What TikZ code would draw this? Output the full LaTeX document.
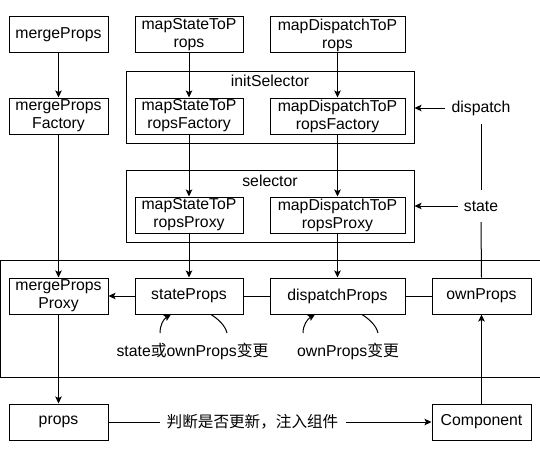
\documentclass[tikz,border=0pt]{standalone}
\usepackage{fontspec}
\setmainfont{Liberation Sans}
\newfontfamily\cjk{Noto Sans CJK SC}
\usetikzlibrary{arrows.meta,calc}
\begin{document}
\begin{tikzpicture}[x=1pt,y=-1pt,
  txt/.style={font=\fontsize{15.8}{18}\selectfont, text=black},
  box/.style={txt, draw, line width=1pt, minimum height=36pt, inner sep=0pt, align=center},
  cont/.style={draw, line width=1pt, minimum width=287.5pt, minimum height=71.5pt, inner sep=0pt},
  lbl/.style={txt, inner ysep=0pt, minimum height=32pt},
  cjklbl/.style={font=\cjk\fontsize{15.6}{18}\selectfont, text=black, inner ysep=0pt},
  conn/.style={line width=1pt, draw=black},
  arr/.style={conn, -{Stealth[length=7pt,width=6.5pt,inset=1.5pt]}}
]
\useasboundingbox (0,0) rectangle (540,460);

% containers
\node[cont] (initSel) at (270.25,107.25) {};
\node[txt, inner sep=0pt] (initTitle) at (270,81) {initSelector};
\node[cont] (sel) at (270.25,206.25) {};
\node[txt, inner sep=0pt] (selTitle) at (270,181) {selector};
\draw[conn] (545,260) -- (0.5,260) -- (0.5,377.5) -- (545,377.5);

% boxes
\node[box, minimum width=99pt]  (mergeProps) at (58.5,35) {mergeProps};
\node[box, minimum width=108pt] (mapS) at (189,35) {mapStateToP\\rops};
\node[box, minimum width=135pt] (mapD) at (337.5,35) {mapDispatchToP\\rops};

\node[box, minimum width=99pt]  (mergeF) at (58.5,116) {mergeProps\\Factory};
\node[box, minimum width=108pt] (mapSF) at (189,116) {mapStateToP\\ropsFactory};
\node[box, minimum width=135pt] (mapDF) at (337.5,116) {mapDispatchToP\\ropsFactory};

\node[box, minimum width=108pt] (mapSP) at (189,215) {mapStateToP\\ropsProxy};
\node[box, minimum width=135pt] (mapDP) at (337.5,215) {mapDispatchToP\\ropsProxy};

\node[box, minimum width=99pt]  (mergePP) at (58.5,296) {mergeProps\\Proxy};
\node[box, minimum width=108pt] (stateProps) at (189,296) {stateProps};
\node[box, minimum width=135pt] (dispatchProps) at (337.5,296) {dispatchProps};
\node[box, minimum width=99pt]  (ownProps) at (481.5,296) {ownProps};

\node[box, minimum width=99pt]  (props) at (58.5,422) {props};
\node[box, minimum width=99pt]  (comp) at (481.5,422) {Component};

% side labels
\node[lbl, inner xsep=6pt] (dispatch) at (481,108) {dispatch};
\node[lbl, inner xsep=6pt] (state) at (481,206) {state};

% bottom labels
\node[txt, inner sep=0pt] (lblS) at (192.5,351) {state{\cjk 或}ownProps{\cjk 变更}};
\node[txt, inner sep=0pt] (lblD) at (348,351) {ownProps{\cjk 变更}};
\node[cjklbl, inner xsep=7pt] (judge) at (252.5,422) {判断是否更新，注入组件};

% vertical arrows
\draw[arr] (mergeProps) -- (mergeF);
\draw[arr] (mapS) -- (mapSF);
\draw[arr] (mapD) -- (mapDF);
\draw[arr] (mapSF) -- (mapSP);
\draw[arr] (mapDF) -- (mapDP);
\draw[arr] (mergeF) -- (mergePP);
\draw[arr] (mapSP) -- (stateProps);
\draw[arr] (mapDP) -- (dispatchProps);
\draw[arr] (mergePP) -- (props);
\draw[arr] (comp) -- (ownProps);

% horizontal
\draw[arr] (stateProps) -- (mergePP);
\draw[conn] (stateProps) -- (dispatchProps);
\draw[conn] (dispatchProps) -- (ownProps);
\draw[conn] (props) -- (judge);
\draw[arr] (judge) -- (comp);

\draw[arr] (dispatch.west) -- (dispatch.west -| initSel.east);
\draw[arr] (state.west) -- (state.west -| sel.east);
\draw[conn] (dispatch.south) -- (state.north);
\draw[conn] (state.south) -- (ownProps.north);

% curved hints
\coordinate (sA) at (160,333);
\coordinate (sB) at (227,333);
\coordinate (dA) at (303,333);
\coordinate (dB) at (378,333);
\draw[arr] (sA) .. controls (160,325) and (163.5,319) .. ($(stateProps.south)+(-18,0)$);
\draw[conn] ($(stateProps.south)+(22,0)$) .. controls (218,319) and (225,325) .. (sB);
\draw[arr] (dA) .. controls (303,325) and (307.5,319) .. ($(dispatchProps.south)+(-22.5,0)$);
\draw[conn] ($(dispatchProps.south)+(24.5,0)$) .. controls (369,319) and (376,325) .. (dB);
\end{tikzpicture}
\end{document}
